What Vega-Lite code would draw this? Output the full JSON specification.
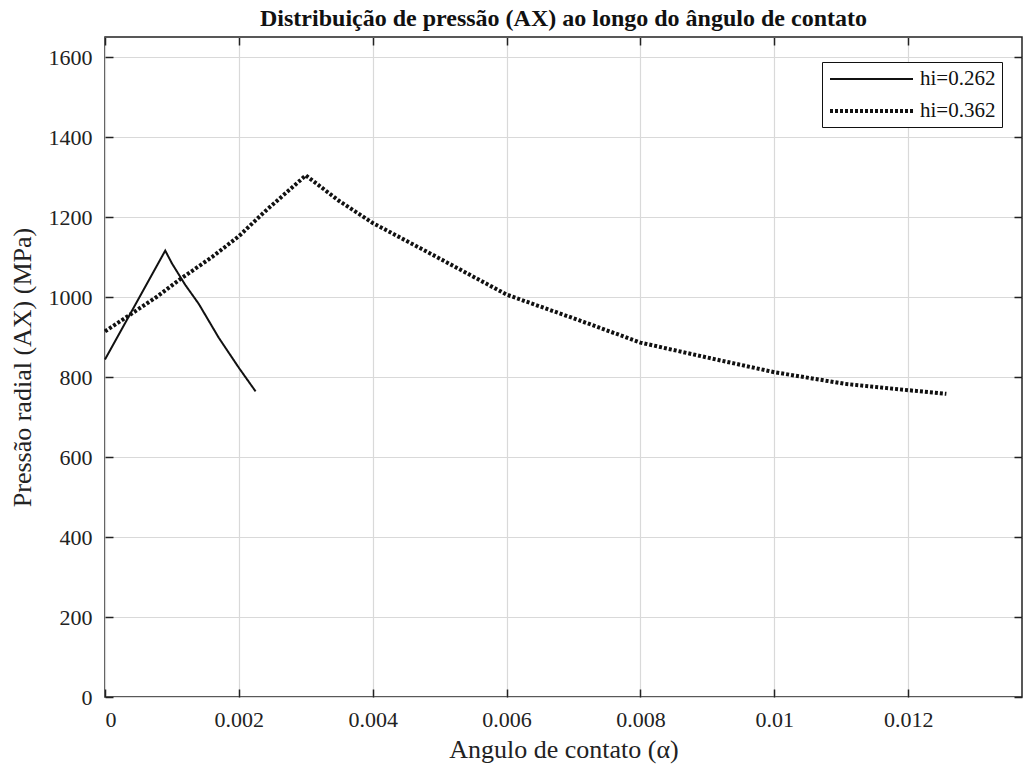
{
  "$schema": "https://vega.github.io/schema/vega-lite/v6.json",
  "width": 917,
  "height": 660,
  "autosize": {"type": "none"},
  "padding": {"left": 105, "top": 37, "right": 3, "bottom": 72},
  "background": "white",
  "title": {
    "text": "Distribuição de pressão (AX) ao longo do ângulo de contato",
    "font": "Liberation Serif",
    "fontSize": 24,
    "fontWeight": "bold",
    "color": "#111",
    "offset": 5
  },
  "config": {
    "view": {"stroke": "#222", "strokeWidth": 1.5},
    "axis": {
      "labelFont": "Liberation Serif",
      "titleFont": "Liberation Serif",
      "labelFontSize": 22,
      "titleFontSize": 26,
      "titleFontWeight": "normal",
      "labelColor": "#222",
      "titleColor": "#222",
      "gridColor": "#d9d9d9",
      "gridWidth": 1.2,
      "domain": false,
      "tickColor": "#222",
      "tickWidth": 1.5,
      "tickSize": -8
    }
  },
  "data": {
    "values": [
      {"x": 0, "p": 844, "s": "hi=0.262"},
      {"x": 0.0009, "p": 1116, "s": "hi=0.262"},
      {"x": 0.001, "p": 1084, "s": "hi=0.262"},
      {"x": 0.0012, "p": 1030, "s": "hi=0.262"},
      {"x": 0.0014, "p": 983, "s": "hi=0.262"},
      {"x": 0.0017, "p": 898, "s": "hi=0.262"},
      {"x": 0.002, "p": 823, "s": "hi=0.262"},
      {"x": 0.00225, "p": 764, "s": "hi=0.262"},
      {"x": 0, "p": 914, "s": "hi=0.362"},
      {"x": 0.00077, "p": 1000, "s": "hi=0.362"},
      {"x": 0.00111, "p": 1043, "s": "hi=0.362"},
      {"x": 0.0016, "p": 1100, "s": "hi=0.362"},
      {"x": 0.002, "p": 1152, "s": "hi=0.362"},
      {"x": 0.00239, "p": 1214, "s": "hi=0.362"},
      {"x": 0.003, "p": 1304, "s": "hi=0.362"},
      {"x": 0.0035, "p": 1240, "s": "hi=0.362"},
      {"x": 0.004, "p": 1185, "s": "hi=0.362"},
      {"x": 0.00489, "p": 1106, "s": "hi=0.362"},
      {"x": 0.006, "p": 1006, "s": "hi=0.362"},
      {"x": 0.00708, "p": 942, "s": "hi=0.362"},
      {"x": 0.008, "p": 886, "s": "hi=0.362"},
      {"x": 0.00907, "p": 846, "s": "hi=0.362"},
      {"x": 0.01, "p": 812, "s": "hi=0.362"},
      {"x": 0.01105, "p": 783, "s": "hi=0.362"},
      {"x": 0.012, "p": 767, "s": "hi=0.362"},
      {"x": 0.01257, "p": 758, "s": "hi=0.362"}
    ]
  },
  "layer": [
    {
      "mark": {"type": "line", "color": "#111", "strokeCap": "butt"},
      "encoding": {
        "x": {
          "field": "x", "type": "quantitative",
          "scale": {"domain": [0, 0.0137], "nice": false, "zero": false},
          "axis": {"orient": "bottom", "values": [0, 0.002, 0.004, 0.006, 0.008, 0.01, 0.012], "format": "~g", "labelPadding": 20, "title": "Angulo de contato (α)", "titlePadding": 6}
        },
        "y": {
          "field": "p", "type": "quantitative",
          "scale": {"domain": [0, 1650], "nice": false},
          "axis": {"orient": "left", "values": [0, 200, 400, 600, 800, 1000, 1200, 1400, 1600], "format": "d", "labelPadding": 21, "title": "Pressão radial (AX) (MPa)", "titlePadding": 13}
        },
        "strokeDash": {
          "field": "s", "type": "nominal",
          "scale": {"domain": ["hi=0.262", "hi=0.362"], "range": [[1, 0], [3, 2]]},
          "legend": {
            "title": null,
            "orient": "none",
            "legendX": 717,
            "legendY": 25,
            "strokeColor": "#111",
            "fillColor": "white",
            "padding": 6,
            "symbolType": "M-1,0H7.3",
            "symbolSize": 400,
            "symbolStrokeColor": "#111",
            "labelFont": "Liberation Serif",
            "labelFontSize": 21,
            "labelColor": "#111",
            "labelOffset": 68,
            "rowPadding": 10
          }
        },
        "strokeWidth": {
          "field": "s", "type": "nominal",
          "scale": {"domain": ["hi=0.262", "hi=0.362"], "range": [2, 4]}
        }
      }
    },
    {
      "mark": {"type": "line", "strokeOpacity": 0},
      "encoding": {
        "x": {
          "field": "x", "type": "quantitative",
          "axis": {"orient": "top", "values": [0, 0.002, 0.004, 0.006, 0.008, 0.01, 0.012], "labels": false, "grid": false, "title": null}
        },
        "y": {
          "field": "p", "type": "quantitative",
          "axis": {"orient": "right", "values": [0, 200, 400, 600, 800, 1000, 1200, 1400, 1600], "labels": false, "grid": false, "title": null}
        },
        "detail": {"field": "s"}
      }
    }
  ],
  "resolve": {"axis": {"x": "independent", "y": "independent"}}
}
